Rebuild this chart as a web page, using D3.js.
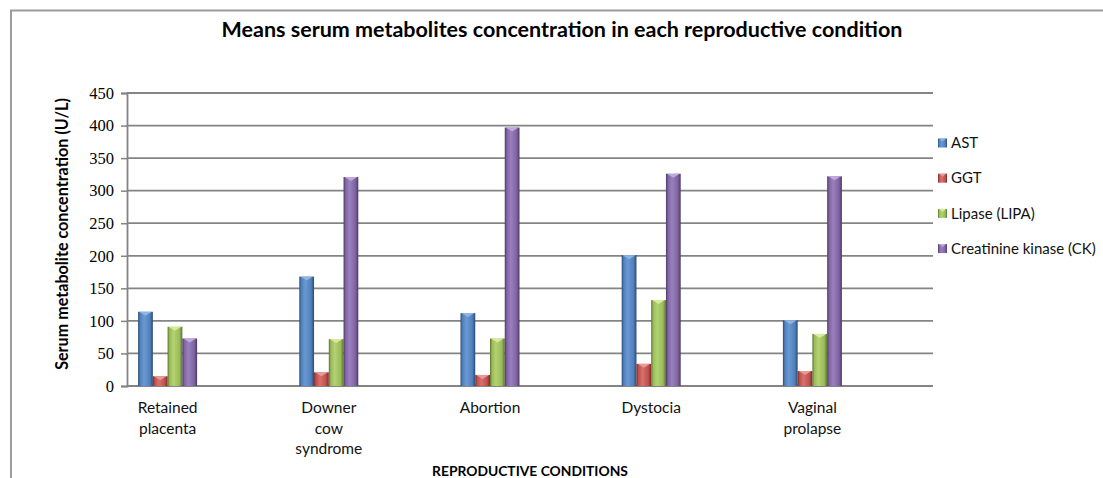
<!DOCTYPE html>
<html>
<head>
<meta charset="utf-8">
<script src="https://cdn.jsdelivr.net/npm/d3@7"></script>
<style>
  body { margin: 0; background: #fff; }
  .ytick { font-family: "Liberation Serif", "DejaVu Serif", serif; font-size: 16.5px; }
</style>
</head>
<body>
<svg id="chart" width="1103" height="478"></svg>
<script>
// data
const categories = ["Retained placenta", "Downer cow syndrome", "Abortion", "Dystocia", "Vaginal prolapse"];
const categoryLines = [["Retained", "placenta"], ["Downer", "cow", "syndrome"], ["Abortion"], ["Dystocia"], ["Vaginal", "prolapse"]];
const seriesNames = ["AST", "GGT", "Lipase (LIPA)", "Creatinine kinase (CK)"];
const ast = [114, 168, 112, 201, 101];
const ggt = [15, 21, 17, 34, 23];
const lipase = [91, 72, 73, 132, 80];
const ck = [73, 321, 397, 326, 322];
const yTicks = [0, 50, 100, 150, 200, 250, 300, 350, 400, 450];

const seriesValues = [ast, ggt, lipase, ck];
const palette = [
  { base: "#4f81bd", dark: "#2b4a72", light: "#6b98d2", top: "#8fb4e3" },
  { base: "#c0504d", dark: "#7a2a28", light: "#d6716d", top: "#e79a97" },
  { base: "#9bbb59", dark: "#5c7230", light: "#b3d273", top: "#d3eb9b" },
  { base: "#8064a2", dark: "#4b3964", light: "#9a7fbe", top: "#c0a8dd" }
];

const svg = d3.select("#chart");
const plot = { left: 127, right: 933, top: 93, bottom: 386 };
const depth = 40; // 3d floor shifts the bars left of the gridlines

// outer frame (only top and left edges show)
svg.append("path")
  .attr("d", "M11,478 V10.5 H1103")
  .attr("fill", "none")
  .attr("stroke", "#9c9c9c")
  .attr("stroke-width", 2);

const y = d3.scaleLinear().domain([0, 450]).range([plot.bottom, plot.top]);
const x0 = d3.scaleBand().domain(categories).range([plot.left - depth, plot.right - depth]);
const barW = 14.75;
const x1 = d3.scaleBand().domain(seriesNames).range([0, barW * seriesNames.length]);

// gradients
const defs = svg.append("defs");
palette.forEach((c, i) => {
  const g = defs.append("linearGradient").attr("id", "bar" + i)
    .attr("x1", 0).attr("x2", 1).attr("y1", 0).attr("y2", 0);
  [[0, c.dark], [0.14, c.base], [0.4, c.light], [0.8, c.base], [1, c.dark]].forEach(s =>
    g.append("stop").attr("offset", s[0]).attr("stop-color", s[1]));
});

// gridlines
svg.append("g")
  .selectAll("line")
  .data(yTicks)
  .join("line")
  .attr("x1", plot.left).attr("x2", plot.right)
  .attr("y1", d => y(d)).attr("y2", d => y(d))
  .attr("stroke", "#848484")
  .attr("stroke-width", 1.8);

// y axis
const yAxis = svg.append("g")
  .attr("transform", `translate(${plot.left},0)`)
  .call(d3.axisLeft(y).tickValues(yTicks).tickSize(6).tickPadding(7));
yAxis.attr("font-family", null).attr("font-size", null);
yAxis.select(".domain").attr("stroke", "#848484").attr("stroke-width", 1.8);
yAxis.selectAll(".tick line").attr("stroke", "#848484").attr("stroke-width", 1.5);
yAxis.selectAll(".tick text")
  .attr("class", "ytick")
  .attr("fill", "#000");

// bars
const groups = svg.append("g")
  .selectAll("g")
  .data(categories)
  .join("g")
  .attr("transform", d => `translate(${x0(d) + x0.bandwidth() / 2 - x1.range()[1] / 2},0)`);

groups.each(function (cat, ci) {
  const g = d3.select(this);
  seriesNames.forEach((s, si) => {
    const v = seriesValues[si][ci];
    const bx = x1(s), by = y(v), bh = y(0) - y(v), bw = x1.bandwidth();
    g.append("rect")
      .attr("x", bx).attr("y", by)
      .attr("width", bw).attr("height", bh)
      .attr("fill", `url(#bar${si})`);
    const tip = Math.min(4, bh);
    g.append("path")
      .attr("d", `M${bx + 1},${by} H${bx + bw - 1} L${bx + bw / 2},${by + tip} Z`)
      .attr("fill", palette[si].top);
  });
});

// category labels
const labels = svg.append("g")
  .selectAll("text")
  .data(categories)
  .join("text")
  .attr("x", d => x0(d) + x0.bandwidth() / 2)
  .attr("y", 413)
  .attr("text-anchor", "middle")
  .attr("font-family", "Lato, sans-serif")
  .attr("font-size", 15.5)
  .attr("fill", "#111");
labels.each(function (d, i) {
  d3.select(this).selectAll("tspan")
    .data(categoryLines[i])
    .join("tspan")
    .attr("x", x0(d) + x0.bandwidth() / 2)
    .attr("dy", (t, j) => j === 0 ? 0 : 20.5)
    .text(t => t);
});

// fit a text element to a target width by scaling its font size
function fitWidth(sel, width) {
  const fs = +sel.attr("font-size");
  const len = sel.node().getComputedTextLength();
  sel.attr("font-size", fs * width / len);
}

// title
const title = svg.append("text")
  .attr("x", 562).attr("y", 37)
  .attr("text-anchor", "middle")
  .attr("font-family", "Lato, sans-serif")
  .attr("font-weight", "bold")
  .attr("font-size", 20)
  .attr("fill", "#000")
  .text("Means serum metabolites concentration in each reproductive condition");
fitWidth(title, 681);

// y axis title
const yTitle = svg.append("text")
  .attr("transform", "translate(68,234) rotate(-90)")
  .attr("text-anchor", "middle")
  .attr("font-family", "Lato, sans-serif")
  .attr("font-weight", "bold")
  .attr("font-size", 14)
  .attr("fill", "#000")
  .text("Serum metabolite concentration (U/L)");
fitWidth(yTitle, 272);

// x axis title
const xTitle = svg.append("text")
  .attr("x", 530).attr("y", 476)
  .attr("text-anchor", "middle")
  .attr("font-family", "Lato, sans-serif")
  .attr("font-weight", "bold")
  .attr("font-size", 13)
  .attr("fill", "#000")
  .text("REPRODUCTIVE CONDITIONS");
fitWidth(xTitle, 196);

// legend
const legend = svg.append("g")
  .selectAll("g")
  .data(seriesNames)
  .join("g")
  .attr("transform", (d, i) => `translate(938,${143 + i * 35.2})`);
legend.append("rect")
  .attr("x", 0).attr("y", -4.5)
  .attr("width", 9).attr("height", 9)
  .attr("fill", (d, i) => `url(#bar${i})`);
legend.append("path")
  .attr("d", "M1,-4.5 H8 L4.5,-1.5 Z")
  .attr("fill", (d, i) => palette[i].top);
legend.append("text")
  .attr("x", 13).attr("y", 0)
  .attr("dy", "0.35em")
  .attr("font-family", "Lato, sans-serif")
  .attr("font-size", 15)
  .attr("fill", "#111")
  .text(d => d);
</script>
</body>
</html>
